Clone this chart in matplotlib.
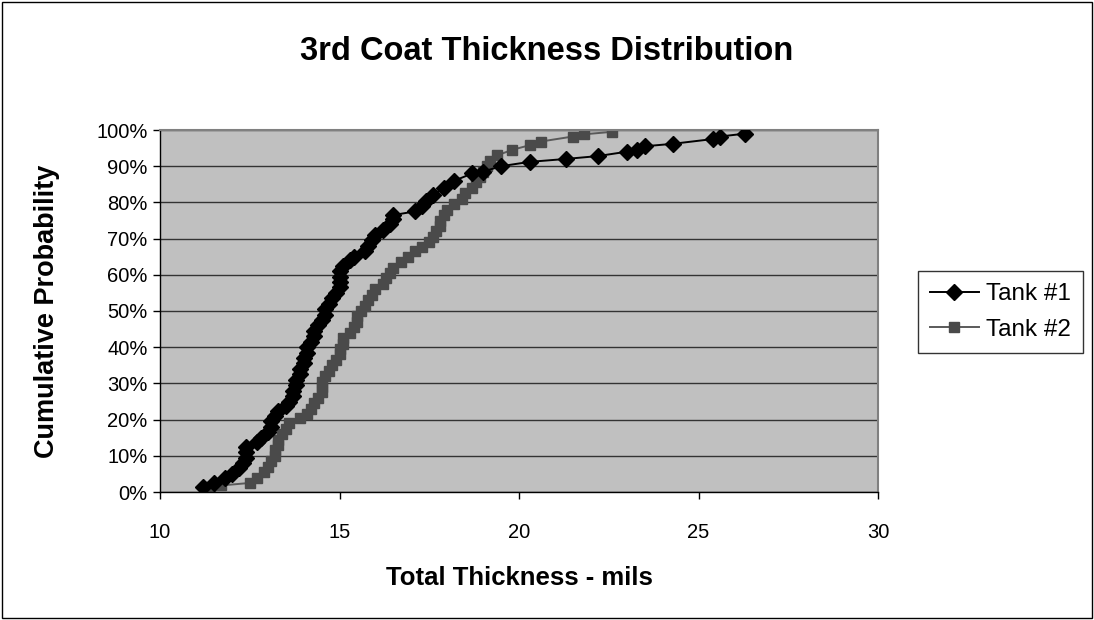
import matplotlib
matplotlib.use("Agg")
import matplotlib.pyplot as plt
from matplotlib.ticker import PercentFormatter, MultipleLocator
from matplotlib.patches import Rectangle

plt.rcParams['font.family'] = ['Liberation Sans', 'DejaVu Sans']

tank1_x = [11.2, 11.5, 11.8, 12.0, 12.2, 12.3, 12.4, 12.4, 12.4, 12.7, 12.8, 13.0, 13.1, 13.1,
           13.2, 13.3, 13.5, 13.6, 13.7, 13.7, 13.8, 13.8, 13.9, 13.9, 14.0, 14.0, 14.1, 14.1,
           14.2, 14.3, 14.3, 14.4, 14.5, 14.6, 14.6, 14.7, 14.8, 14.9, 15.0, 15.0, 15.0, 15.0,
           15.1, 15.3, 15.4, 15.7, 15.8, 15.9, 16.0, 16.2, 16.4, 16.5, 16.5, 17.1, 17.3, 17.4,
           17.6, 17.9, 18.2, 18.7, 19.0, 19.5, 20.3, 21.3, 22.2, 23.0, 23.3, 23.5, 24.3, 25.4,
           25.6, 26.3]
tank1_p = [1.5, 2.5, 3.8, 5.0, 6.5, 8.0, 9.5, 11.0, 12.5, 13.8, 15.0, 16.5, 18.0, 19.5,
           21.0, 22.5, 23.8, 25.0, 26.5, 28.0, 29.5, 31.0, 32.5, 34.0, 35.5, 37.0, 38.5, 40.0,
           41.5, 43.0, 44.5, 46.0, 47.5, 49.0, 50.5, 52.0, 53.5, 55.0, 56.5, 58.0, 59.5, 61.0,
           62.5, 64.0, 65.0, 66.5, 68.0, 69.5, 71.0, 72.5, 74.0, 75.5, 76.5, 77.5, 79.0, 80.5,
           82.0, 84.0, 86.0, 88.0, 88.5, 90.0, 91.2, 92.0, 92.8, 94.0, 94.5, 95.5, 96.2, 97.5,
           98.2, 99.0]

tank2_x = [11.4, 11.7, 12.5, 12.7, 12.9, 13.0, 13.1, 13.2, 13.2, 13.3, 13.3, 13.4, 13.5, 13.6,
           13.9, 14.1, 14.2, 14.3, 14.4, 14.5, 14.5, 14.5, 14.6, 14.7, 14.8, 14.9, 15.0, 15.0,
           15.1, 15.1, 15.3, 15.4, 15.5, 15.5, 15.6, 15.7, 15.8, 15.9, 16.0, 16.2, 16.3, 16.4,
           16.5, 16.7, 16.9, 17.1, 17.3, 17.5, 17.6, 17.7, 17.8, 17.8, 17.9, 18.0, 18.2, 18.4,
           18.5, 18.7, 18.8, 18.9, 19.0, 19.1, 19.2, 19.4, 19.8, 20.3, 20.6, 21.5, 21.8, 22.6]
tank2_p = [1.3, 1.8, 2.5, 4.0, 5.5, 7.0, 8.5, 10.0, 11.5, 13.0, 14.5, 16.0, 17.5, 19.0,
           20.5, 21.5, 23.0, 24.5, 26.0, 27.5, 29.0, 30.5, 32.0, 33.5, 35.0, 36.5, 38.0, 39.5,
           41.0, 42.5, 44.0, 45.5, 47.0, 48.5, 50.0, 51.5, 53.0, 54.5, 56.0, 57.5, 59.0, 60.5,
           62.0, 63.5, 65.0, 66.5, 67.8, 69.0, 70.5, 72.0, 73.5, 75.0, 76.5, 78.0, 79.5, 81.0,
           82.5, 84.0, 85.5, 87.0, 88.5, 90.0, 91.5, 93.0, 94.5, 95.8, 96.8, 98.2, 98.8, 99.5]

W, H = 1094, 620
fig = plt.figure(figsize=(W/100, H/100), dpi=100)
fig.patch.set_facecolor('white')
fig.add_artist(Rectangle((0.002, 0.003), 0.996, 0.994, transform=fig.transFigure,
                         fill=False, edgecolor='black', linewidth=1.0))

ax = fig.add_axes([160/W, 1-492/H, (878-160)/W, (492-130)/H])
ax.set_facecolor('#C0C0C0')

ax.plot(tank1_x, tank1_p, color='black', linewidth=1.4, marker='D', markersize=8.5,
        markerfacecolor='black', markeredgecolor='black', label='Tank #1', zorder=3)
ax.plot(tank2_x, tank2_p, color='#5a5a5a', linewidth=1.4, marker='s', markersize=7.5,
        markerfacecolor='#4a4a4a', markeredgecolor='#4a4a4a', label='Tank #2', zorder=2)

ax.set_xlim(10, 30)
ax.set_ylim(0, 100)
ax.xaxis.set_major_locator(MultipleLocator(5))
ax.yaxis.set_major_locator(MultipleLocator(10))
ax.yaxis.set_major_formatter(PercentFormatter(decimals=0))
ax.grid(axis='y', color='#333333', linewidth=1.0)
ax.set_axisbelow(True)

for s in ['top', 'right']:
    ax.spines[s].set_color('#808080')
    ax.spines[s].set_linewidth(1.5)
for s in ['left', 'bottom']:
    ax.spines[s].set_color('black')
    ax.spines[s].set_linewidth(1.0)

ax.tick_params(axis='both', direction='out', length=5, width=1, labelsize=14.5, colors='black')
ax.tick_params(axis='x', pad=17)
ax.tick_params(axis='y', pad=4)

fig.text(519/W, 1-578/H, 'Total Thickness - mils', ha='center', va='center',
         fontsize=18.5, fontweight='bold')
fig.text(47/W, 1-311/H, 'Cumulative Probability', ha='center', va='center',
         rotation=90, fontsize=19.5, fontweight='bold')
fig.text(547/W, 1-52/H, '3rd Coat Thickness Distribution', ha='center', va='center',
         fontsize=23.5, fontweight='bold')

leg = ax.legend(loc='center left', bbox_to_anchor=(918/W, 1-312/H),
                bbox_transform=fig.transFigure, fontsize=17.5, frameon=True, fancybox=False,
                edgecolor='black', handlelength=2.0, borderpad=0.5, labelspacing=0.55,
                handletextpad=0.3, borderaxespad=0)
leg.get_frame().set_linewidth(1.0)

fig.savefig('out.png', dpi=100)
